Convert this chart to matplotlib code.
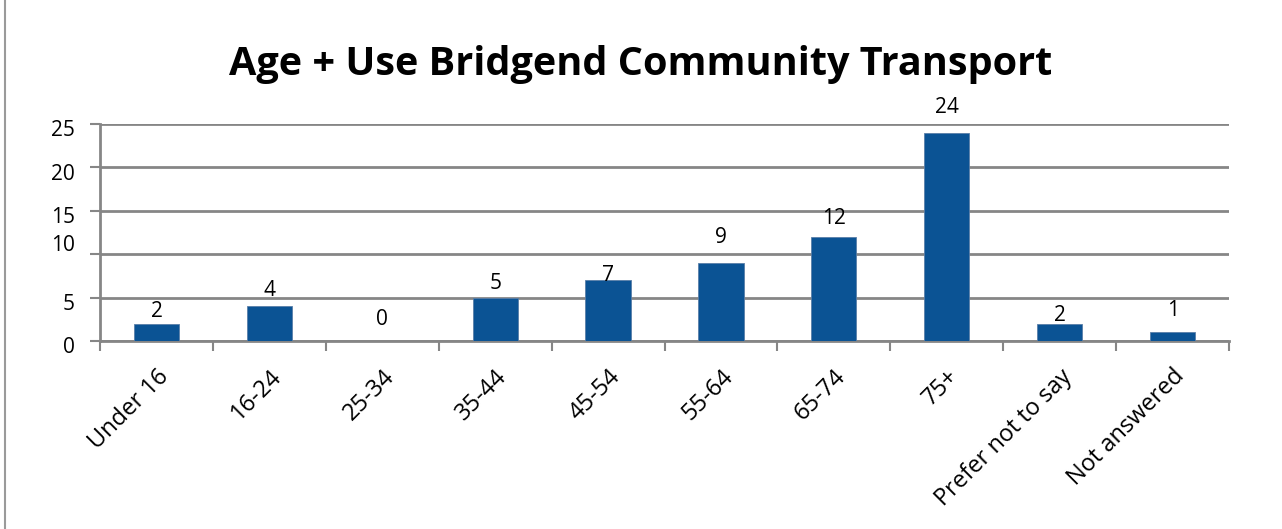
import matplotlib.pyplot as plt
import matplotlib.transforms as mtransforms
from matplotlib.lines import Line2D
import numpy as np

categories = ['Under 16', '16-24', '25-34', '35-44', '45-54', '55-64',
              '65-74', '75+', 'Prefer not to say', 'Not answered']
counts = [2, 4, 0, 5, 7, 9, 12, 24, 2, 1]
y_ticks = [0, 5, 10, 15, 20, 25]

# gap (pixels) between bar top and its value label, as placed in the original
label_gaps = [7, 10, 16, 9, -1, 20, 13, 20, 3, 16]

plt.rcParams['font.family'] = ['Open Sans', 'DejaVu Sans']

fig = plt.figure(figsize=(12.82, 5.29), dpi=100)
ax = fig.add_axes([0.078, 0.3554, 0.8807, 0.4102])

x = np.arange(len(categories))
ax.bar(x, counts, width=0.4, color='#0B5394', edgecolor='#5A7FA8',
       linewidth=0.6, zorder=3)

for xi, v, g in zip(x, counts, label_gaps):
    ax.annotate(str(v), (xi, v), xytext=(0, g), textcoords='offset pixels',
                ha='center', va='baseline', fontsize=15, zorder=4)

ax.set_xlim(-0.5, len(categories) - 0.5)
ax.set_ylim(0, 25)
ax.set_yticks(y_ticks)
ax.set_yticklabels([str(t) for t in y_ticks], fontsize=15)
ax.yaxis.grid(True, color='#868686', linewidth=2, zorder=0)
ax.tick_params(axis='y', length=7, width=1.5, color='#868686', pad=11)

# odd label placement as in the original
for lab, t in zip(ax.get_yticklabels(), y_ticks):
    dy = 8 / 72 if t == 10 else -3 / 72
    lab.set_transform(lab.get_transform() +
                      mtransforms.ScaledTranslation(0, dy, fig.dpi_scale_trans))

ax.set_xticks(x)
ax.set_xticklabels(categories, rotation=45, ha='right', rotation_mode='anchor',
                   fontsize=17)
ax.tick_params(axis='x', length=0, pad=17)
ax.set_xticks(np.arange(len(categories) + 1) - 0.5, minor=True)
ax.tick_params(axis='x', which='minor', length=7, width=1.5, color='#868686')

for s in ['top', 'right']:
    ax.spines[s].set_visible(False)
for s in ['left', 'bottom']:
    ax.spines[s].set_color('#868686')
    ax.spines[s].set_linewidth(2)

fig.text(0.5, 0.878, 'Age + Use Bridgend Community Transport', ha='center',
         va='center', fontsize=28.5, fontweight='bold')

fig.add_artist(Line2D([5 / 1282, 5 / 1282], [0, 1], color='#9a9a9a',
                      linewidth=1.5, transform=fig.transFigure))

fig.savefig('out.png', dpi=100)
